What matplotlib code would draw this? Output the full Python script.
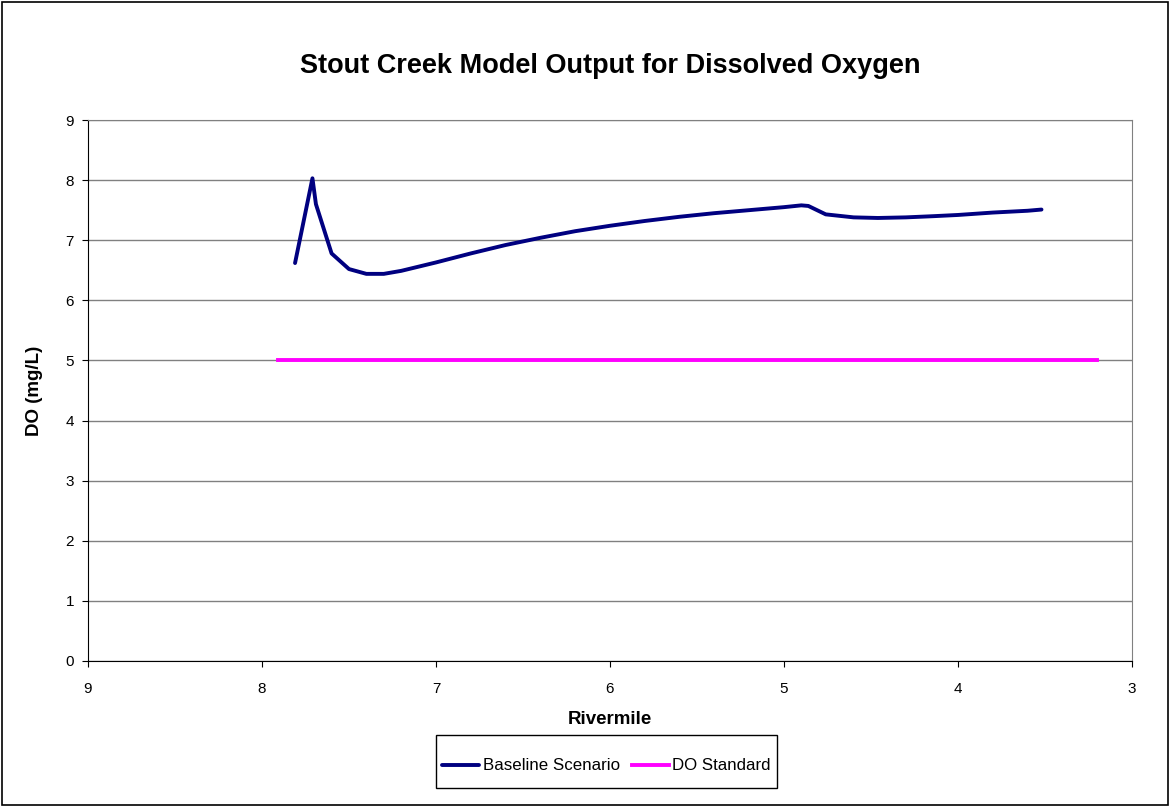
# Stout Creek DO model output chart
import matplotlib.pyplot as plt
from matplotlib.patches import Rectangle

plt.rcParams['font.family'] = ['Liberation Sans', 'DejaVu Sans']

# Baseline scenario
rivermile = [7.81, 7.71, 7.69, 7.60, 7.50, 7.40, 7.30, 7.20, 7.10, 7.00, 6.80, 6.60,
             6.40, 6.20, 6.00, 5.80, 5.60, 5.40, 5.20, 5.00, 4.90, 4.86, 4.76, 4.60,
             4.46, 4.30, 4.14, 4.00, 3.80, 3.60, 3.52]
baseline_do = [6.62, 8.03, 7.60, 6.78, 6.52, 6.44, 6.44, 6.49, 6.56, 6.63, 6.78, 6.92,
               7.04, 7.15, 7.24, 7.32, 7.39, 7.45, 7.50, 7.55, 7.58, 7.57, 7.43, 7.38,
               7.37, 7.38, 7.40, 7.42, 7.46, 7.49, 7.51]

# DO standard
std_mile = [7.91, 3.20]
std_do = [5, 5]

W, H = 1170, 807
fig = plt.figure(figsize=(W / 100, H / 100), dpi=100)
fig.patches.append(Rectangle((0.002, 0.002), 0.996, 0.996, transform=fig.transFigure,
                             fill=False, edgecolor='black', linewidth=1.2))
ax = fig.add_axes([0.0752, 0.181, 0.8923, 0.6703])

ax.plot(rivermile, baseline_do, color='#000080', linewidth=2.8, label='Baseline Scenario',
        solid_capstyle='round')
ax.plot(std_mile, std_do, color='#FF00FF', linewidth=2.8, label='DO Standard')

ax.set_xlim(9, 3)
ax.set_ylim(0, 9)
ax.set_xticks(range(9, 2, -1))
ax.set_yticks(range(0, 10))
ax.yaxis.grid(True, color='#808080', linewidth=1.0)
ax.set_axisbelow(True)
ax.spines['top'].set_color('#808080')
ax.spines['right'].set_color('#808080')
ax.tick_params(direction='out', length=4, labelsize=11)
ax.tick_params(axis='x', pad=11)
ax.tick_params(axis='y', pad=6)

ax.set_title('Stout Creek Model Output for Dissolved Oxygen', fontsize=19.5,
             fontweight='bold', pad=34)
ax.set_xlabel('Rivermile', fontsize=13.5, fontweight='bold', labelpad=11)
ax.set_ylabel('DO (mg/L)', fontsize=13.5, fontweight='bold', labelpad=16)

# legend entries without frame, box drawn separately (Excel-style padding)
leg = ax.legend(loc='center', bbox_to_anchor=(606.5 / W, 1 - 766 / H),
                bbox_transform=fig.transFigure, ncol=2, frameon=False,
                fontsize=12.2, handlelength=2.2, handletextpad=0.2, columnspacing=0.7,
                borderpad=0, borderaxespad=0)
fig.patches.append(Rectangle((436 / W, 1 - 788 / H), 341 / W, 53 / H,
                             transform=fig.transFigure, fill=False,
                             edgecolor='black', linewidth=1.0))

plt.savefig('out.png', dpi=100)
